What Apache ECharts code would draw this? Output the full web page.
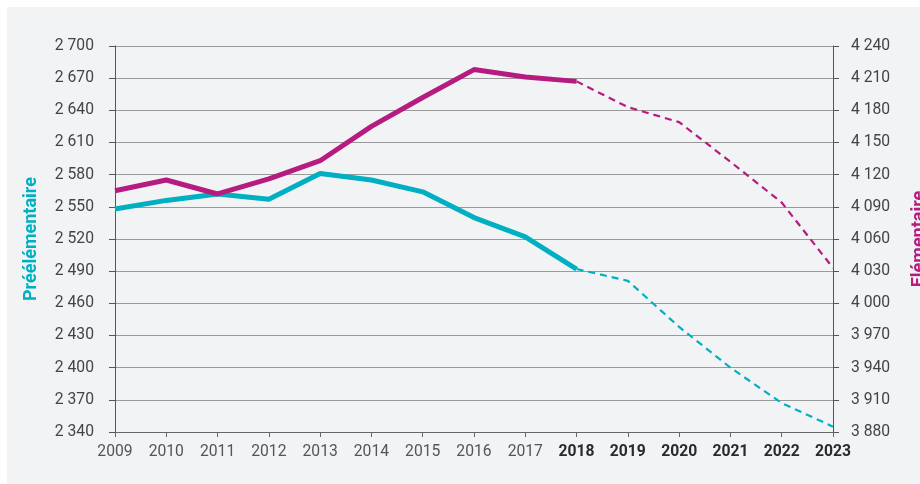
<!DOCTYPE html>
<html><head><meta charset="utf-8">
<script src="https://cdn.jsdelivr.net/npm/echarts@6/dist/echarts.min.js"></script>
<style>html,body{margin:0;padding:0;background:#fff}#c{width:920px;height:484px}</style>
</head><body><div id="c"></div>
<script>
const years = ['2009','2010','2011','2012','2013','2014','2015','2016','2017','2018','2019','2020','2021','2022','2023'];
const projectionStart = '2018';
const preelementaire = [2548,2556,2562,2557,2581,2575,2564,2540,2522,2492,2481,2438,2400,2367,2345];
const elementaire = [4105,4115,4102,4116,4133,4165,4192,4218,4211,4207,4183,4169,4132,4094,4033];
const leftTicks = {min:2340,max:2700,interval:30};
const rightTicks = {min:3880,max:4240,interval:30};

const cyan = '#00b0c2', magenta = '#b61c80';
const splitIdx = years.indexOf(projectionStart);
const solid = arr => arr.map((v,i)=> i<=splitIdx ? v : null);
const dashed = arr => arr.map((v,i)=> i>=splitIdx ? v : null);
const fmt = v => { const s = String(v); return s.length>3 ? s.slice(0,s.length-3)+' '+s.slice(-3) : s; };
const font = 'Roboto';
const fs = 15.7;

const chart = echarts.init(document.getElementById('c'));
const yCommon = {
  type:'value', interval:30,
  axisLine:{show:true,lineStyle:{color:'#555',width:1}},
  axisTick:{show:true,length:6,lineStyle:{color:'#555'}},
  nameLocation:'middle',
  nameTextStyle:{fontSize:18,fontWeight:'bold',fontFamily:font}
};
chart.setOption({
  animation:false,
  backgroundColor:'#fff',
  graphic:[{type:'rect',z:-10,silent:true,shape:{x:7,y:7,width:913,height:477},style:{fill:'#f2f3f5'}}],
  grid:{left:115,right:87,top:46,bottom:52,outerBoundsMode:'none',containLabel:false},
  xAxis:{
    type:'category', data:years, boundaryGap:false,
    axisLine:{lineStyle:{color:'#666'}},
    axisTick:{show:true,length:5,alignWithLabel:true,interval:0,lineStyle:{color:'#666'}},
    axisLabel:{interval:0,fontSize:fs,fontFamily:font,margin:12,
      formatter:(v)=> (+v>=+projectionStart ? '{b|'+v+'}' : '{n|'+v+'}'),
      rich:{n:{color:'#555',fontSize:fs,fontFamily:font},b:{color:'#2a2a2a',fontSize:fs,fontWeight:'bold',fontFamily:font}}}
  },
  yAxis:[
    Object.assign({}, yCommon, leftTicks, {position:'left', name:'Préélémentaire', nameGap:75,
      axisLabel:{color:'#444',fontSize:fs,fontFamily:font,formatter:fmt,margin:21},
      nameTextStyle:Object.assign({}, yCommon.nameTextStyle,{color:cyan}),
      splitLine:{show:true,lineStyle:{color:'#9a9a9a',width:1}}}),
    Object.assign({}, yCommon, rightTicks, {position:'right', name:'Elémentaire', nameGap:77, nameRotate:90,
      axisLabel:{color:'#444',fontSize:fs,fontFamily:font,formatter:fmt,margin:18},
      nameTextStyle:Object.assign({}, yCommon.nameTextStyle,{color:magenta}),
      splitLine:{show:false}})
  ],
  series:[
    {type:'line',yAxisIndex:0,data:solid(preelementaire),symbol:'none',lineStyle:{color:cyan,width:5},z:3},
    {type:'line',yAxisIndex:0,data:dashed(preelementaire),symbol:'none',lineStyle:{color:cyan,width:2.2,type:[7,5]},z:2},
    {type:'line',yAxisIndex:1,data:solid(elementaire),symbol:'none',lineStyle:{color:magenta,width:5},z:3},
    {type:'line',yAxisIndex:1,data:dashed(elementaire),symbol:'none',lineStyle:{color:magenta,width:2.2,type:[7,5]},z:2}
  ]
});
</script></body></html>
